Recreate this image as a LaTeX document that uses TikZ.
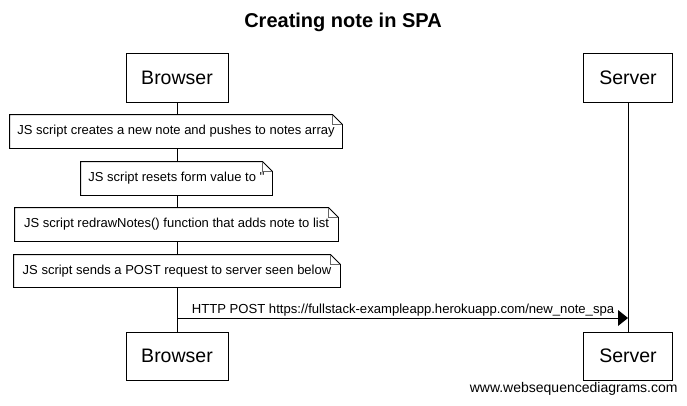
\documentclass[tikz,border=0pt]{standalone}
\usepackage{fontspec}
\setmainfont{Liberation Sans}[Ligatures=TeXOff]
\begin{document}
\begin{tikzpicture}[x=1pt,y=-1pt,line width=0.9pt,
  actor/.style={draw=black,fill=white,inner sep=0pt,font=\fontsize{19.5}{22}\selectfont},
  notebox/.style={fill=white,inner sep=0pt,minimum height=33pt,font=\fontsize{13}{15}\selectfont},
  lbl/.style={font=\fontsize{13.1}{15}\selectfont,inner sep=0pt}]
\useasboundingbox (0,0) rectangle (687,405);
\fill[white] (0,0) rectangle (687,405);
\node[font=\fontsize{20}{24}\selectfont\bfseries] (title) at (343,22) {Creating note in SPA};
% actors
\node[actor,minimum width=102pt,minimum height=49pt] (bt) at (177,77.5) {Browser};
\node[actor,minimum width=89pt,minimum height=49pt] (st) at (628,77.5) {Server};
\node[actor,minimum width=102pt,minimum height=48pt] (bb) at (177,356) {Browser};
\node[actor,minimum width=89pt,minimum height=48pt] (sb) at (628,356) {Server};
% lifelines
\draw (bt.south) -- (bb.north);
\draw (st.south) -- (sb.north);
% notes
\node[notebox,minimum width=332pt] (n1) at (176,131.5) {JS script creates a new note and pushes to notes array};
\node[notebox,minimum width=191pt] (n2) at (176.5,178.5) {JS script resets form value to ''};
\node[notebox,minimum width=323pt] (n3) at (176.5,224.5) {JS script redrawNotes() function that adds note to list};
\node[notebox,minimum width=326pt,minimum height=32pt] (n4) at (177,271) {JS script sends a POST request to server seen below};
\foreach \n in {n1,n2,n3,n4}{
  \draw (\n.north west) -- ([xshift=-10pt]\n.north east) -- ([yshift=-10pt]\n.north east) -- (\n.south east) -- (\n.south west) -- cycle;
  \draw[line width=0.5pt,black!60] ([xshift=-10pt]\n.north east) -- ([xshift=-10pt,yshift=-10pt]\n.north east) -- ([yshift=-10pt]\n.north east);
}
% message
\coordinate (a1) at (bt.south |- 0,318);
\coordinate (a2) at (st.south |- 0,318);
\draw (a1) -- ([xshift=-9pt]a2);
\fill (a2) -- ++(-10,-8) -- ++(0,16) -- cycle;
\node[lbl,anchor=base] (m1) at (403,313) {HTTP POST https://fullstack-exampleapp.herokuapp.com/new\_note\_spa};
% watermark
\node[font=\fontsize{14}{16}\selectfont,inner sep=0pt,anchor=east] (wm) at (678,389) {www.websequencediagrams.com};
\end{tikzpicture}
\end{document}
